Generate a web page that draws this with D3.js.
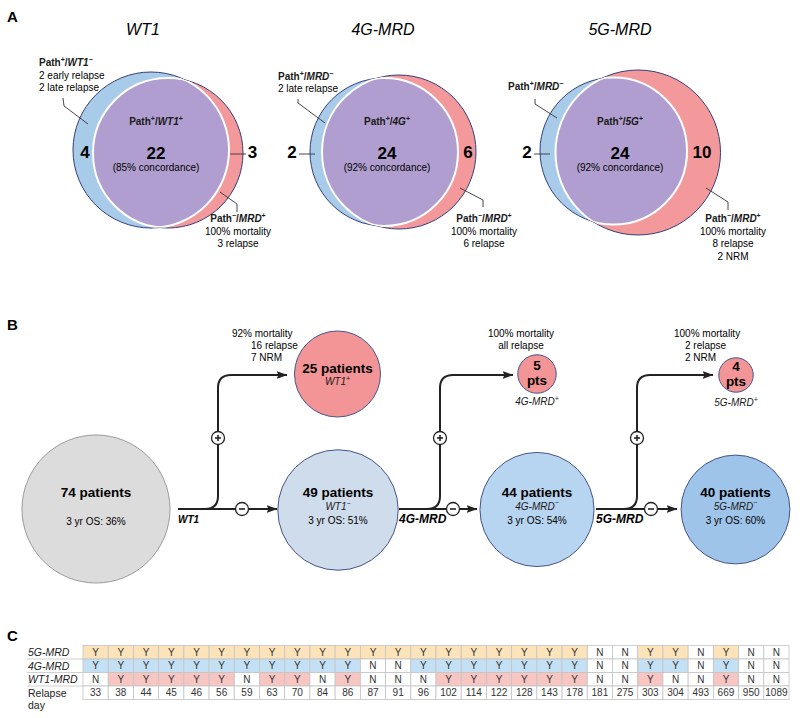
<!DOCTYPE html>
<html><head><meta charset="utf-8">
<script src="https://cdn.jsdelivr.net/npm/d3@7"></script>
<style>body{margin:0;background:#fff}svg{display:block;font-family:"Liberation Sans",Arial,sans-serif}</style>
</head><body><svg id="c" width="800" height="718"></svg>
<script>
// ================= DATA =================
// Panel A (Venn)
const vennTests = ["WT1", "4G-MRD", "5G-MRD"];
const vennPosShort = ["WT1", "4G", "5G"];
const vennNegShort = ["WT1", "MRD", "MRD"];
const vennBoth = [22, 24, 24];
const vennPathOnly = [4, 2, 2];
const vennMrdOnly = [3, 6, 10];
const vennConcordance = [85, 92, 92];
const vennPathOnlyNotes = [["2 early relapse", "2 late relapse"], ["2 late relapse"], []];
const vennMrdOnlyNotes = [["100% mortality", "3 relapse"], ["100% mortality", "6 relapse"], ["100% mortality", "8 relapse", "2 NRM"]];

// Panel B (flow)
const flowTests = ["WT1", "4G-MRD", "5G-MRD"];
const flowStartN = 74;
const flowStartOS = 36;
const flowNegN = [49, 44, 40];
const flowNegOS = [51, 54, 60];
const flowPosN = [25, 5, 4];
const flowPosNotes = [["92% mortality", "16 relapse", "7 NRM"], ["100% mortality", "all relapse"], ["100% mortality", "2 relapse", "2 NRM"]];

// Panel C (table)
const relapseDays = [33, 38, 44, 45, 46, 56, 59, 63, 70, 84, 86, 87, 91, 96, 102, 114, 122, 128, 143, 178, 181, 275, 303, 304, 493, 669, 950, 1089];
const mrd5G = ["Y","Y","Y","Y","Y","Y","Y","Y","Y","Y","Y","Y","Y","Y","Y","Y","Y","Y","Y","Y","N","N","Y","Y","N","Y","N","N"];
const mrd4G = ["Y","Y","Y","Y","Y","Y","Y","Y","Y","Y","Y","N","N","Y","Y","Y","Y","Y","Y","Y","N","N","Y","Y","N","Y","N","N"];
const mrdWT1 = ["N","Y","Y","Y","Y","Y","N","Y","Y","N","Y","N","N","N","Y","Y","Y","Y","Y","Y","N","N","Y","N","N","Y","N","N"];
const tableRowNames = ["5G-MRD", "4G-MRD", "WT1-MRD"];

// ================= LAYOUT / STYLE =================
const C = {
  blue: "#a8cbea", red: "#f4999b", purple: "#b09ed0", outline: "#33407a",
  ink: "#1a1a1a", line: "#222"
};
const vennLayout = [
  { blue: [151, 150, 78], red: [168, 153, 75], tx: 143, mid: 156,
    left: { x: 39, y: [66, 79, 91] }, leftLeader: [[63, 98], [64, 106], [88, 124]],
    pc: [85, 158], pcLeader: null,
    mc: [252.5, 158], mcLeader: [[230, 154], [246, 154]],
    redLeader: [[220, 192], [237, 204], [237, 212]], right: { x: 238, y: [222, 235, 247, 259] } },
  { blue: [384, 152, 74], red: [399, 152, 77], tx: 383, mid: 387,
    left: { x: 278, y: [80, 92] }, leftLeader: [[298, 99], [298, 103], [325, 123]],
    pc: [292, 158], pcLeader: [[299, 154], [315, 154]],
    mc: [468, 158], mcLeader: null,
    redLeader: [[460, 188], [483, 200], [483, 207]], right: { x: 484, y: [222, 235, 247, 259] } },
  { blue: [613.5, 151, 73.5], red: [638, 152.5, 82.5], tx: 620, mid: 620,
    left: { x: 508, y: [90] }, leftLeader: [[535, 99], [535, 104], [557, 118]],
    pc: [527, 158], pcLeader: [[534, 154], [550, 154]],
    mc: [702, 158], mcLeader: null,
    redLeader: [[706, 188], [728, 202], [728, 210]], right: { x: 733, y: [222, 235, 247, 260] } }
];

const svg = d3.select("#c");
const defs = svg.append("defs");

// rich text helper
function rich(sel, x, y, parts, size, anchor) {
  const t = sel.append("text").attr("x", x).attr("y", y).attr("font-size", size)
    .attr("text-anchor", anchor || "start").attr("fill", C.ink);
  let raised = false;
  const up = size * 0.42;
  parts.forEach(p => {
    const o = typeof p === "string" ? { t: p } : p;
    const ts = t.append("tspan").text(o.t);
    if (o.b) ts.attr("font-weight", "bold");
    if (o.i) ts.attr("font-style", "italic");
    if (o.sup) {
      ts.attr("font-size", size * 0.7);
      if (!raised) { ts.attr("dy", -up); raised = true; }
    } else if (raised) { ts.attr("dy", up); raised = false; }
  });
  return t;
}
function poly(sel, pts, w) {
  sel.append("path").attr("d", d3.line()(pts)).attr("fill", "none")
    .attr("stroke", "#333").attr("stroke-width", w || 0.9);
}

// panel letters
[["A", 22], ["B", 330], ["C", 641]].forEach(([l, y]) =>
  svg.append("text").attr("x", 7).attr("y", y).attr("font-size", 15).attr("font-weight", "bold").text(l));

// ================= PANEL A =================
vennTests.forEach((test, k) => {
  const L = vennLayout[k];
  const g = svg.append("g");
  g.append("text").attr("x", L.tx).attr("y", 35).attr("text-anchor", "middle")
    .attr("font-size", 16).attr("font-style", "italic").text(test);
  const [bx, by, br] = L.blue, [rx, ry, rr] = L.red;
  defs.append("clipPath").attr("id", "cb" + k).append("circle").attr("cx", bx).attr("cy", by).attr("r", br);
  defs.append("clipPath").attr("id", "cr" + k).append("circle").attr("cx", rx).attr("cy", ry).attr("r", rr);
  g.append("circle").attr("cx", bx).attr("cy", by).attr("r", br).attr("fill", C.blue).attr("stroke", C.outline).attr("stroke-width", 1);
  g.append("circle").attr("cx", rx).attr("cy", ry).attr("r", rr).attr("fill", C.red).attr("stroke", C.outline).attr("stroke-width", 1);
  g.append("circle").attr("cx", rx).attr("cy", ry).attr("r", rr).attr("fill", C.purple)
    .attr("clip-path", `url(#cb${k})`);
  g.append("circle").attr("cx", rx).attr("cy", ry).attr("r", rr).attr("fill", "none").attr("stroke", "#fff").attr("stroke-width", 2)
    .attr("clip-path", `url(#cb${k})`);
  g.append("circle").attr("cx", bx).attr("cy", by).attr("r", br).attr("fill", "none").attr("stroke", "#fff").attr("stroke-width", 2)
    .attr("clip-path", `url(#cr${k})`);

  // center text
  rich(g, L.mid, 125, [{ t: "Path", b: 1 }, { t: "+", b: 1, sup: 1 }, { t: "/", b: 1 }, { t: vennPosShort[k], b: 1, i: 1 }, { t: "+", b: 1, sup: 1 }], 10, "middle");
  g.append("text").attr("x", L.mid).attr("y", 159).attr("text-anchor", "middle").attr("font-size", 17).attr("font-weight", "bold").text(vennBoth[k]);
  g.append("text").attr("x", L.mid).attr("y", 171).attr("text-anchor", "middle").attr("font-size", 10).text(`(${vennConcordance[k]}% concordance)`);

  // path-only
  g.append("text").attr("x", L.pc[0]).attr("y", L.pc[1]).attr("text-anchor", "middle").attr("font-size", 17).attr("font-weight", "bold").text(vennPathOnly[k]);
  if (L.pcLeader) poly(g, L.pcLeader);
  rich(g, L.left.x, L.left.y[0], [{ t: "Path", b: 1 }, { t: "+", b: 1, sup: 1 }, { t: "/", b: 1 }, { t: vennNegShort[k], b: 1, i: 1 }, { t: "\u2212", b: 1, sup: 1 }], 10, "start");
  vennPathOnlyNotes[k].forEach((s, j) => g.append("text").attr("x", L.left.x).attr("y", L.left.y[j + 1]).attr("font-size", 10).text(s));
  poly(g, L.leftLeader);

  // mrd-only
  g.append("text").attr("x", L.mc[0]).attr("y", L.mc[1]).attr("text-anchor", "middle").attr("font-size", 17).attr("font-weight", "bold").text(vennMrdOnly[k]);
  if (L.mcLeader) poly(g, L.mcLeader);
  poly(g, L.redLeader);
  rich(g, L.right.x, L.right.y[0], [{ t: "Path", b: 1 }, { t: "\u2212", b: 1, sup: 1 }, { t: "/", b: 1 }, { t: "MRD", b: 1, i: 1 }, { t: "+", b: 1, sup: 1 }], 10, "middle");
  vennMrdOnlyNotes[k].forEach((s, j) => g.append("text").attr("x", L.right.x).attr("y", L.right.y[j + 1]).attr("text-anchor", "middle").attr("font-size", 10).text(s));
});

// ================= PANEL B =================
const rScale = d3.scaleSqrt().domain([0, flowStartN]).range([0, 74]);
defs.append("marker").attr("id", "arr").attr("viewBox", "0 0 11 8").attr("refX", 10.5).attr("refY", 4)
  .attr("markerWidth", 11).attr("markerHeight", 8).attr("markerUnits", "userSpaceOnUse").attr("orient", "auto")
  .append("path").attr("d", "M0,0L11,4L0,8L2,4Z").attr("fill", C.line);

const startC = { cx: 96, cy: 509 };
const negC = [{ cx: 338, cy: 510 }, { cx: 537, cy: 509.5 }, { cx: 735.5, cy: 509.5 }];
const posC = [{ cx: 337.5, cy: 374 }, { cx: 537, cy: 374 }, { cx: 736, cy: 375 }];
const negFill = ["#cfdcec", "#b7d4f0", "#9ec4ea"];
const posFill = "#f39496";
const flowGeo = [
  { sx: 178, bx: 218, up: 287, dn: 277, minus: 242, lab: 10 },
  { sx: 399, bx: 440, up: 513, dn: 477, minus: 453, lab: 12 },
  { sx: 596, bx: 637, up: 713, dn: 677, minus: 651, lab: 12 }
];
const flowNoteLayout = [
  { x: [232, 251, 251], a: "start" },
  { x: [521, 521], a: "middle" },
  { x: [674, 685, 685], a: "start" }
];
const fy = 509, ty = 375, rad = 13;
const gB = svg.append("g");

// start circle
gB.append("circle").attr("cx", startC.cx).attr("cy", startC.cy).attr("r", rScale(flowStartN))
  .attr("fill", "#dcdcdc").attr("stroke", "#9a9a9a").attr("stroke-width", 1);
gB.append("text").attr("x", startC.cx).attr("y", startC.cy - 12).attr("text-anchor", "middle").attr("font-size", 13.5).attr("font-weight", "bold").text(`${flowStartN} patients`);
gB.append("text").attr("x", startC.cx).attr("y", startC.cy + 16).attr("text-anchor", "middle").attr("font-size", 10).text(`3 yr OS: ${flowStartOS}%`);

function signCircle(g, x, y, plus) {
  g.append("circle").attr("cx", x).attr("cy", y).attr("r", 6.5).attr("fill", "#fff").attr("stroke", C.line).attr("stroke-width", 1.3);
  g.append("line").attr("x1", x - 3).attr("x2", x + 3).attr("y1", y).attr("y2", y).attr("stroke", C.line).attr("stroke-width", 1.6);
  if (plus) g.append("line").attr("x1", x).attr("x2", x).attr("y1", y - 3).attr("y2", y + 3).attr("stroke", C.line).attr("stroke-width", 1.6);
}

flowTests.forEach((test, k) => {
  const G = flowGeo[k];
  // branch path up
  gB.append("path").attr("d", `M${G.sx},${fy}H${G.bx - rad}Q${G.bx},${fy} ${G.bx},${fy - rad}V${ty + rad}Q${G.bx},${ty} ${G.bx + rad},${ty}H${G.up}`)
    .attr("fill", "none").attr("stroke", C.line).attr("stroke-width", 2).attr("marker-end", "url(#arr)");
  gB.append("path").attr("d", `M${G.sx},${fy}H${G.dn}`)
    .attr("fill", "none").attr("stroke", C.line).attr("stroke-width", 2).attr("marker-end", "url(#arr)");
  signCircle(gB, G.bx, 438, true);
  signCircle(gB, G.minus, fy, false);
  gB.append("text").attr("x", G.sx).attr("y", 523).attr("font-size", G.lab).attr("font-weight", "bold").attr("font-style", "italic").text(test);

  // negative circle
  const n = negC[k];
  gB.append("circle").attr("cx", n.cx).attr("cy", n.cy).attr("r", rScale(flowNegN[k]))
    .attr("fill", negFill[k]).attr("stroke", "#46558a").attr("stroke-width", 1);
  gB.append("text").attr("x", n.cx).attr("y", n.cy - 13).attr("text-anchor", "middle").attr("font-size", 13.5).attr("font-weight", "bold").text(`${flowNegN[k]} patients`);
  rich(gB, n.cx, n.cy, [{ t: test, i: 1 }, { t: "\u2212", i: 1, sup: 1 }], 10, "middle");
  gB.append("text").attr("x", n.cx).attr("y", n.cy + 14).attr("text-anchor", "middle").attr("font-size", 10).text(`3 yr OS: ${flowNegOS[k]}%`);

  // positive circle
  const p = posC[k];
  gB.append("circle").attr("cx", p.cx).attr("cy", p.cy).attr("r", rScale(flowPosN[k]))
    .attr("fill", posFill).attr("stroke", "#46558a").attr("stroke-width", 1);
  if (k === 0) {
    gB.append("text").attr("x", p.cx).attr("y", p.cy - 1).attr("text-anchor", "middle").attr("font-size", 13.5).attr("font-weight", "bold").text(`${flowPosN[k]} patients`);
    rich(gB, p.cx, p.cy + 11, [{ t: test, i: 1 }, { t: "+", i: 1, sup: 1 }], 10, "middle");
  } else {
    gB.append("text").attr("x", p.cx).attr("y", p.cy - 4).attr("text-anchor", "middle").attr("font-size", 13.5).attr("font-weight", "bold").text(flowPosN[k]);
    gB.append("text").attr("x", p.cx).attr("y", p.cy + 11).attr("text-anchor", "middle").attr("font-size", 13.5).attr("font-weight", "bold").text("pts");
    rich(gB, p.cx, p.cy + 31, [{ t: test, i: 1 }, { t: "+", i: 1, sup: 1 }], 10, "middle");
  }
  const NL = flowNoteLayout[k];
  flowPosNotes[k].forEach((s, j) => gB.append("text").attr("x", NL.x[j]).attr("y", 337 + j * 12)
    .attr("text-anchor", NL.a).attr("font-size", 10).text(s));
});

// ================= PANEL C =================
const gC = svg.append("g");
const tableRows = [
  { name: tableRowNames[0], vals: mrd5G, fill: "#fde3ba" },
  { name: tableRowNames[1], vals: mrd4G, fill: "#c3e0f5" },
  { name: tableRowNames[2], vals: mrdWT1, fill: "#f8c6c2" },
  { name: "Relapse day", vals: relapseDays, fill: null }
];
const xC = d3.scaleBand().domain(d3.range(relapseDays.length)).range([83, 789]);
const yC = d3.scaleBand().domain(d3.range(tableRows.length)).range([645.5, 699.5]);
tableRows.forEach((row, r) => {
  const y0 = yC(r), h = yC.bandwidth();
  row.vals.forEach((v, i) => {
    const filled = row.fill && v === "Y";
    gC.append("rect").attr("x", xC(i)).attr("y", y0).attr("width", xC.bandwidth()).attr("height", h)
      .attr("fill", filled ? row.fill : "#fff").attr("stroke", "#c4c4c4").attr("stroke-width", 0.8);
    gC.append("text").attr("x", xC(i) + xC.bandwidth() / 2).attr("y", y0 + h / 2 + 3.6).attr("text-anchor", "middle")
      .attr("font-size", 10).attr("fill", "#333").text(v);
  });
  if (r < 3) {
    gC.append("text").attr("x", 28).attr("y", y0 + h / 2 + 3.8).attr("font-size", 10.5).attr("font-style", "italic").attr("fill", "#222").text(row.name);
    gC.append("line").attr("x1", 27).attr("x2", 83).attr("y1", y0 + h).attr("y2", y0 + h).attr("stroke", "#c4c4c4").attr("stroke-width", 0.8);
  } else {
    const words = row.name.split(" ");
    gC.append("text").attr("x", 28).attr("y", y0 + h / 2 + 3.8).attr("font-size", 10.5).attr("fill", "#222").text(words[0]);
    gC.append("text").attr("x", 28).attr("y", y0 + h / 2 + 16).attr("font-size", 10.5).attr("fill", "#222").text(words[1]);
  }
});
</script></body></html>
